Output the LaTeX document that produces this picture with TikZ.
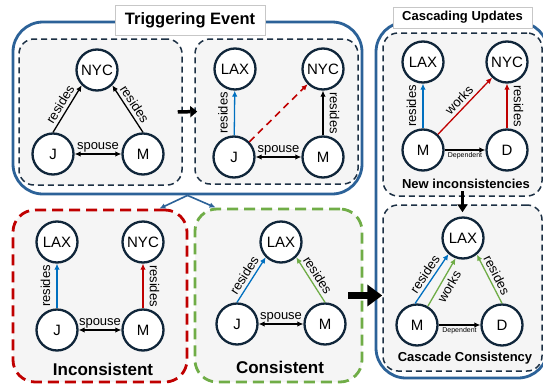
\documentclass[tikz,border=0pt]{standalone}
\usepackage{fontspec}
\setmainfont{Liberation Sans}
\usetikzlibrary{arrows.meta}
\definecolor{ringcol}{RGB}{16,38,58}
\definecolor{dashcol}{RGB}{28,48,68}
\definecolor{panelgray}{RGB}{245,245,245}
\definecolor{boxblue}{RGB}{44,98,152}
\definecolor{edgeblue}{RGB}{0,112,192}
\definecolor{edgered}{RGB}{192,0,0}
\definecolor{edgegreen}{RGB}{112,173,71}
\tikzstyle{vertex}=[draw=ringcol,fill=white,circle,line width=2.3pt,minimum size=41pt,inner sep=0pt,font=\fontsize{15}{15}\selectfont]
\tikzstyle{panel}=[draw=dashcol,fill=panelgray,dash pattern=on 6pt off 4pt,line width=1.5pt,rounded corners=15pt]
\tikzstyle{bigbox}=[draw=boxblue,line width=2.8pt,rounded corners=30pt]
\tikzstyle{titlebox}=[draw=black!22,fill=white,line width=0.7pt,inner sep=0pt]
\tikzstyle{rel}=[->,line width=1.3pt]
\tikzstyle{lbl}=[font=\fontsize{13}{13}\selectfont,inner sep=3pt,black]
\tikzstyle{vlbl}=[lbl,inner sep=6pt]

\begin{document}
\begin{tikzpicture}[x=1pt,y=-1pt,>={Latex[length=6pt,width=5.5pt]}]
  \clip (0,0) rectangle (543,383);
  \fill[white] (0,0) rectangle (543,383);

  % outer boxes
  \node[bigbox,minimum width=349pt,minimum height=172pt] (trig) at (187.5,108) {};
  \node[bigbox,minimum width=172pt,minimum height=356pt] (casc) at (462,200) {};
  \node[titlebox,minimum width=150pt,minimum height=30pt,font=\fontsize{16.5}{16.5}\selectfont\bfseries] (trigtitle) at (190,20) {Triggering Event};
  \node[titlebox,minimum width=139pt,minimum height=21pt,font=\fontsize{13}{13}\selectfont\bfseries] (casctitle) at (462.5,17.5) {Cascading Updates};

  % panels
  \node[panel,minimum width=163pt,minimum height=146pt] (p1) at (100.5,112) {};
  \node[panel,minimum width=163pt,minimum height=145pt] (p2) at (276.5,111.5) {};
  \node[panel,minimum width=159pt,minimum height=163pt] (p3) at (462.5,114.5) {};
  \node[panel,minimum width=159pt,minimum height=166pt] (p4) at (462.5,288) {};
  \node[panel,draw=edgered,dash pattern=on 11pt off 6pt,line width=2.8pt,rounded corners=22pt,minimum width=174pt,minimum height=172pt] (incon) at (100,296) {};
  \node[panel,draw=edgegreen,dash pattern=on 11pt off 6pt,line width=2.8pt,rounded corners=22pt,minimum width=167pt,minimum height=173pt] (cons) at (278.5,295.5) {};

  % triggering event, before
  \node[vertex] (p1NYC) at (97,70) {NYC};
  \node[vertex] (p1J) at (53,154) {J};
  \node[vertex] (p1M) at (143,154) {M};
  \draw[rel] (p1J.north) -- node[lbl,midway,above,sloped] {resides} (p1NYC.225);
  \draw[rel] (p1M.north) -- node[lbl,midway,above,sloped] {resides} (p1NYC.-45);
  \draw[rel,<->] (p1J) -- node[lbl,above,inner sep=1pt] {spouse} (p1M);

  % triggering event, after
  \node[vertex] (p2LAX) at (235,69) {LAX};
  \node[vertex] (p2NYC) at (323,69) {NYC};
  \node[vertex] (p2J) at (234,157) {J};
  \node[vertex] (p2M) at (323,157) {M};
  \draw[rel,edgeblue] (p2J) -- node[vlbl,midway,rotate=90,anchor=south] {resides} (p2LAX);
  \draw[rel,edgered,dash pattern=on 7pt off 5pt,line width=1.6pt] (p2J) -- (p2NYC);
  \draw[rel] (p2M) -- node[vlbl,midway,rotate=-90,anchor=south] {resides} (p2NYC);
  \draw[rel,<->] (p2J) -- node[lbl,above,inner sep=1pt] {spouse} (p2M);

  % new inconsistencies
  \node[vertex] (p3LAX) at (423,62) {LAX};
  \node[vertex] (p3NYC) at (507,62) {NYC};
  \node[vertex] (p3M) at (423,150) {M};
  \node[vertex] (p3D) at (507,150) {D};
  \draw[rel,edgeblue] (p3M) -- node[vlbl,midway,rotate=90,anchor=south] {resides} (p3LAX);
  \draw[rel,edgered] (p3M) -- node[lbl,midway,above,sloped] {works} (p3NYC);
  \draw[rel,edgered] (p3D) -- node[vlbl,midway,rotate=-90,anchor=south] {resides} (p3NYC);
  \draw[rel] (p3M) -- node[font=\fontsize{7}{7}\selectfont,below,inner sep=2pt] {Dependent} (p3D);
  \node[font=\fontsize{13}{13}\selectfont\bfseries] (p3text) at (466,184) {New inconsistencies};

  % cascade consistency
  \node[vertex] (p4LAX) at (463,238) {LAX};
  \node[vertex] (p4M) at (417,325) {M};
  \node[vertex] (p4D) at (502,325) {D};
  \draw[rel,edgeblue] (p4M.95) -- node[lbl,midway,above,sloped] {resides} (p4LAX.228);
  \draw[rel,edgegreen] (p4M.60) -- node[lbl,midway,below,sloped] {works} (p4LAX.250);
  \draw[rel,edgegreen] (p4D.north) -- node[lbl,midway,above,sloped] {resides} (p4LAX.-50);
  \draw[rel] (p4M) -- node[font=\fontsize{7}{7}\selectfont,below,inner sep=2pt] {Dependent} (p4D);
  \node[font=\fontsize{13}{13}\selectfont\bfseries] (p4text) at (465,358) {Cascade Consistency};

  % inconsistent
  \node[vertex] (inLAX) at (57,242) {LAX};
  \node[vertex] (inNYC) at (143,242) {NYC};
  \node[vertex] (inJ) at (57,330) {J};
  \node[vertex] (inM) at (143,330) {M};
  \draw[rel,edgeblue] (inJ) -- node[vlbl,midway,rotate=90,anchor=south] {resides} (inLAX);
  \draw[rel,edgered] (inM) -- node[vlbl,midway,rotate=-90,anchor=south] {resides} (inNYC);
  \draw[rel,<->] (inJ) -- node[lbl,above,inner sep=1pt] {spouse} (inM);
  \node[font=\fontsize{17}{17}\selectfont\bfseries] (intext) at (103,369) {Inconsistent};

  % consistent
  \node[vertex] (coLAX) at (281,242) {LAX};
  \node[vertex] (coJ) at (237,324) {J};
  \node[vertex] (coM) at (325,324) {M};
  \draw[rel,edgeblue] (coJ.north) -- node[lbl,midway,above,sloped] {resides} (coLAX.225);
  \draw[rel,edgegreen] (coM.north) -- node[lbl,midway,above,sloped] {resides} (coLAX.-45);
  \draw[rel,<->] (coJ) -- node[lbl,above,inner sep=1pt] {spouse} (coM);
  \node[font=\fontsize{17}{17}\selectfont\bfseries] (cotext) at (280,367) {Consistent};

  % flow arrows
  \draw[line width=3.5pt,-{Triangle[length=7pt,width=11pt]}] ([xshift=-5pt]p1.east) -- ([xshift=3pt]p2.west);
  \draw[line width=7pt,-{Triangle[length=15pt,width=21pt]}] ([xshift=-15pt]cons.east) -- (cons.east -| p4.west);
  \draw[line width=3pt,-{Triangle[length=8pt,width=10pt]}] ([yshift=6pt]p3.south) -- ([yshift=-8pt]p4.north);
  \draw[boxblue,line width=1.6pt,->] (trig.south) -- ([xshift=-29pt]incon.north east);
  \draw[boxblue,line width=1.6pt,->] (trig.south) -- ([xshift=22pt]cons.north west);
\end{tikzpicture}
\end{document}
